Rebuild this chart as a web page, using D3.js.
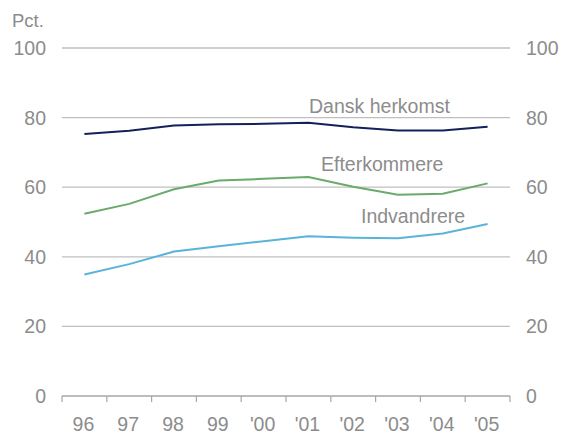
<!DOCTYPE html>
<html>
<head>
<meta charset="utf-8">
<script src="https://cdn.jsdelivr.net/npm/d3@7"></script>
<style>
  body { margin: 0; background: #fff; }
  text { font-family: "Liberation Sans", Arial, sans-serif; fill: #8c8c8c; }
</style>
</head>
<body>
<svg width="565" height="434"></svg>
<script>
const years = ['96','97','98','99',"'00","'01","'02","'03","'04","'05"]
const yTicks = [0,20,40,60,80,100]
const dansk = [75.3,76.2,77.7,78.1,78.2,78.5,77.2,76.3,76.3,77.4]
const efterkommere = [52.4,55.2,59.4,61.9,62.4,62.9,60.1,57.8,58.1,61.1]
const indvandrere = [34.9,37.9,41.5,43.0,44.5,45.9,45.5,45.3,46.7,49.4]
const seriesNames = ['Dansk herkomst','Efterkommere','Indvandrere']

const svg = d3.select('svg')
const plot = {left: 62, right: 510, top: 48, bottom: 396}
const fs = '19.5px'

const x = d3.scaleBand().domain(years).range([plot.left,plot.right])
const y = d3.scaleLinear().domain([0,100]).range([plot.bottom,plot.top])

// gridlines
svg.append('g').selectAll('line').data(yTicks.filter(d => d > 0)).enter().append('line')
  .attr('x1',plot.left).attr('x2',plot.right)
  .attr('y1',d => y(d)).attr('y2',d => y(d))
  .attr('stroke','#bfbfbf').attr('stroke-width',1.3)

// y labels, both sides
const yl = svg.append('g').style('font-size',fs)
yl.selectAll('.l').data(yTicks).enter().append('text')
  .attr('x',46).attr('y',d => y(d) + 7).attr('text-anchor','end').text(d => d)
yl.selectAll('.r').data(yTicks).enter().append('text')
  .attr('x',526).attr('y',d => y(d) + 7).text(d => d)
svg.append('text').attr('x',12).attr('y',27).style('font-size','18.5px').text('Pct.')

// x axis
const xa = svg.append('g')
xa.append('line').attr('x1',plot.left).attr('x2',plot.right).attr('y1',plot.bottom).attr('y2',plot.bottom)
  .attr('stroke','#a6a6a6').attr('stroke-width',1.3)
const bounds = years.map(d => x(d)).concat([plot.right])
xa.selectAll('.t').data(bounds).enter().append('line')
  .attr('x1',d => d).attr('x2',d => d).attr('y1',plot.bottom).attr('y2',plot.bottom + 6)
  .attr('stroke','#a6a6a6').attr('stroke-width',1.2)
xa.selectAll('text').data(years).enter().append('text')
  .attr('x',d => x(d) + x.bandwidth()/2 - 1).attr('y',431)
  .attr('text-anchor','middle').style('font-size',fs).text(d => d)

// lines
const line = d3.line().x((d,i) => x(years[i]) + x.bandwidth()/2).y(d => y(d))
const series = [
  {values: dansk, color: '#14205a', lx: 309, ly: 113},
  {values: efterkommere, color: '#6aaa6a', lx: 321, ly: 171},
  {values: indvandrere, color: '#5ab3d8', lx: 361, ly: 223},
]
series.forEach((s,i) => {
  svg.append('path').datum(s.values).attr('d',line)
    .attr('fill','none').attr('stroke',s.color).attr('stroke-width',2)
  svg.append('text').attr('x',s.lx).attr('y',s.ly).style('font-size',fs).text(seriesNames[i])
})
</script>
</body>
</html>
